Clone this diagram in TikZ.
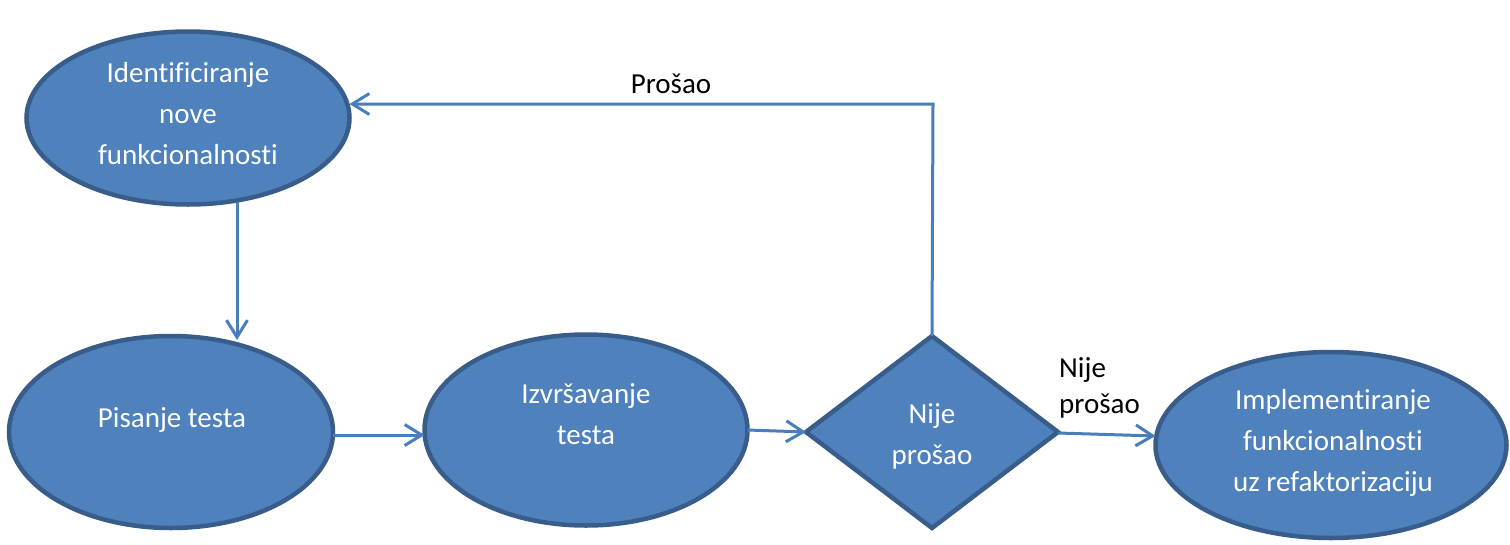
\documentclass[tikz,border=0pt]{standalone}
\usepackage{fontspec}
\setmainfont[Ligatures=NoCommon]{Carlito}
\usetikzlibrary{shapes.geometric,arrows.meta}
\definecolor{shapefill}{HTML}{4F81BD}
\definecolor{shapeline}{HTML}{385D8A}
\definecolor{arrowcol}{HTML}{4A7EBB}
\tikzset{
  blob/.style={ellipse,draw=shapeline,fill=shapefill,line width=4.5pt,inner sep=0pt,outer sep=0pt},
  decision/.style={diamond,draw=shapeline,fill=shapefill,line width=4.5pt,inner sep=0pt,outer sep=0pt},
  intext/.style={anchor=base,inner sep=0pt,text=white,font=\fontsize{29}{41}\selectfont},
  lbltext/.style={inner sep=0pt,text=black,font=\fontsize{29}{36}\selectfont},
  arr/.style={draw=arrowcol,line width=3pt,-{Straight Barb[length=17pt,width=21pt,line width=3pt]}}
}
\begin{document}
\begin{tikzpicture}[x=1pt,y=-1pt]
\useasboundingbox (0,0) rectangle (1510,544);
% shapes
\node[blob,minimum width=323pt,minimum height=173pt] (e1) at (188,118) {};
\node[blob,minimum width=324pt,minimum height=192pt] (e2) at (171,432) {};
\node[blob,minimum width=323pt,minimum height=191pt] (e3) at (586,430) {};
\node[decision,minimum width=252pt,minimum height=192pt] (d) at (932,432) {};
\node[blob,minimum width=351pt,minimum height=186pt] (e4) at (1331,445) {};
% texts
\node[intext] (t1) at (188,82) {\begin{tabular}[t]{@{}c@{}}Identificiranje\\nove\\funkcionalnosti\end{tabular}};
\node[intext] (t2) at (172,427) {Pisanje testa};
\node[intext] (t3) at (586,403) {\begin{tabular}[t]{@{}c@{}}Izvršavanje\\testa\end{tabular}};
\node[intext] (t4) at (932,423) {\begin{tabular}[t]{@{}c@{}}Nije\\prošao\end{tabular}};
\node[intext] (t5) at (1333,409) {\begin{tabular}[t]{@{}c@{}}Implementiranje\\funkcionalnosti\\uz refaktorizaciju\end{tabular}};
% connectors
\coordinate (turn) at (933,104);
\draw[arr] ([xshift=49pt,yshift=3pt]e1.south) -- ([xshift=66pt,yshift=-4pt]e2.north);
\draw[arr] ([yshift=-3pt]e2.east) -- ([yshift=-3pt]e2.east -| e3.west);
\draw[arr] (e3.east) -- ([yshift=-2pt]e3.east -| d.west);
\draw[arr] ([yshift=-1pt]d.east) -- ([yshift=-4pt]d.east -| e4.west);
\draw[arr] (d.north) -- (turn) -- (e1.east |- turn);
% labels
\node[lbltext,anchor=base] (l1) at (671,93) {Prošao};
\node[lbltext,anchor=base west] (l2) at (1059,377) {\begin{tabular}[t]{@{}l@{}}Nije\\prošao\end{tabular}};
\end{tikzpicture}
\end{document}
